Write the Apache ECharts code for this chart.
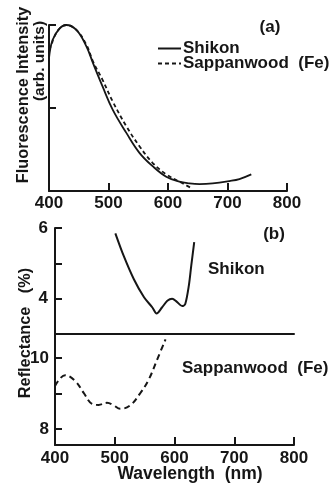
<!DOCTYPE html>
<html>
<head>
<meta charset="utf-8">
<script src="https://cdn.jsdelivr.net/npm/echarts@6/dist/echarts.min.js"></script>
<style>
html,body{margin:0;padding:0;background:#fff;}
#c{width:334px;height:486px;}
</style>
</head>
<body>
<div id="c"></div>
<script>
// ---- Data ----
const xTicks = [400, 500, 600, 700, 800];

// Panel (a): fluorescence intensity (arb. units)
const fluoShikonWl  = [400, 406, 418, 429, 446, 463, 474, 490, 507, 530, 552, 574, 597, 619, 636, 653, 675, 703, 720, 740];
const fluoShikonVal = [0.80, 0.91, 0.98, 1.00, 0.97, 0.87, 0.77, 0.63, 0.49, 0.35, 0.23, 0.15, 0.086, 0.056, 0.046, 0.042, 0.046, 0.060, 0.072, 0.10];
const fluoSappanWl  = [400, 404, 409, 418, 429, 446, 463, 474, 490, 507, 530, 552, 574, 597, 620, 638];
const fluoSappanVal = [0.85, 0.88, 0.93, 0.98, 1.00, 0.97, 0.88, 0.78, 0.67, 0.54, 0.39, 0.27, 0.17, 0.10, 0.055, 0.02];

// Panel (b): reflectance (%)
const reflShikonWl  = [501, 515, 532, 549, 563, 570, 579, 588, 596, 604, 613, 618, 624, 628, 633];
const reflShikonVal = [5.85, 5.21, 4.55, 4.04, 3.75, 3.58, 3.75, 3.94, 4.00, 3.91, 3.79, 3.85, 4.37, 4.93, 5.60];
const reflSappanWl  = [400, 417, 434, 448, 462, 473, 487, 498, 509, 526, 543, 557, 571, 585];
const reflSappanVal = [9.21, 9.52, 9.35, 9.02, 8.71, 8.68, 8.74, 8.67, 8.57, 8.67, 9.02, 9.40, 9.96, 10.53];

const upperTicks = [4, 5, 6], upperLabels = [4, 6];
const lowerTicks = [8, 9, 10], lowerLabels = [8, 10];

const names = { shikon: 'Shikon', sappan: 'Sappanwood  (Fe)' };

// ---- Helpers ----
const zip = (xs, ys) => xs.map((x, i) => [x, ys[i]]);
const INK = '#161616';
const FONT = '"Liberation Sans", Arial, sans-serif';
const axisLine = { show: true, lineStyle: { color: INK, width: 2 } };
const tickIn = { show: true, inside: true, length: 8, lineStyle: { color: INK, width: 2 } };
const lbl = { color: INK, fontSize: 17, fontWeight: 'bold', fontFamily: FONT };

function txt(text, x, y, opts) {
  opts = opts || {};
  return {
    type: 'text', x: x, y: y, rotation: opts.rot || 0,
    style: {
      text: text, x: 0, y: 0,
      font: 'bold ' + (opts.size || 17) + 'px ' + FONT,
      fill: INK,
      textAlign: opts.align || 'center',
      textVerticalAlign: 'middle'
    }
  };
}

const chart = echarts.init(document.getElementById('c'), null, { renderer: 'canvas' });
chart.setOption({
  backgroundColor: '#ffffff',
  animation: false,
  grid: [
    { left: 49, top: 25, width: 238, height: 166 },
    { left: 55, top: 228, width: 239, height: 106 },
    { left: 55, top: 334, width: 239, height: 111 }
  ],
  legend: {
    data: [names.shikon, names.sappan],
    orient: 'vertical',
    left: 157, top: 40,
    padding: 0,
    itemWidth: 23, itemHeight: 12, itemGap: -2,
    itemStyle: { opacity: 0 },
    textStyle: Object.assign({}, lbl, { lineHeight: 15, padding: [0, 0, 0, -3] })
  },
  xAxis: [
    { gridIndex: 0, type: 'value', min: 400, max: 800, interval: 100,
      axisLine: axisLine, axisTick: tickIn, splitLine: { show: false },
      axisLabel: Object.assign({ margin: 4, customValues: xTicks }, lbl) },
    { gridIndex: 1, type: 'value', min: 400, max: 800, interval: 100,
      axisLine: axisLine, axisTick: { show: false }, axisLabel: { show: false }, splitLine: { show: false } },
    { gridIndex: 2, type: 'value', min: 400, max: 800, interval: 100,
      axisLine: axisLine, axisTick: tickIn, splitLine: { show: false },
      axisLabel: Object.assign({ margin: 5, customValues: xTicks }, lbl) }
  ],
  yAxis: [
    { gridIndex: 0, type: 'value', min: 0, max: 1, interval: 0.5,
      axisLine: axisLine, axisTick: Object.assign({}, tickIn, { length: 7 }),
      axisLabel: { show: false }, splitLine: { show: false } },
    { gridIndex: 1, type: 'value', min: 3, max: 6,
      axisLine: axisLine,
      axisTick: Object.assign({}, tickIn, { length: 7, customValues: upperTicks }),
      axisLabel: Object.assign({ margin: 7, customValues: upperLabels }, lbl),
      splitLine: { show: false } },
    { gridIndex: 2, type: 'value', min: 7.55, max: 10.68,
      axisLine: axisLine,
      axisTick: Object.assign({}, tickIn, { length: 7, customValues: lowerTicks }),
      axisLabel: Object.assign({ margin: 6, customValues: lowerLabels }, lbl),
      splitLine: { show: false } }
  ],
  series: [
    { name: names.shikon, type: 'line', xAxisIndex: 0, yAxisIndex: 0, smooth: 0.4, symbol: 'none',
      lineStyle: { color: INK, width: 1.8 }, itemStyle: { color: INK },
      data: zip(fluoShikonWl, fluoShikonVal) },
    { name: names.sappan, type: 'line', xAxisIndex: 0, yAxisIndex: 0, smooth: 0.4, symbol: 'none',
      lineStyle: { color: INK, width: 1.8, type: [4, 3] }, itemStyle: { color: INK },
      data: zip(fluoSappanWl, fluoSappanVal) },
    { name: 'Shikon (b)', type: 'line', xAxisIndex: 1, yAxisIndex: 1, smooth: 0.3, symbol: 'none',
      lineStyle: { color: INK, width: 2 },
      data: zip(reflShikonWl, reflShikonVal) },
    { name: 'Sappanwood (b)', type: 'line', xAxisIndex: 2, yAxisIndex: 2, smooth: 0.4, symbol: 'none',
      lineStyle: { color: INK, width: 2, type: [6, 4] },
      data: zip(reflSappanWl, reflSappanVal) }
  ],
  graphic: [
    txt('(a)', 270, 27),
    txt('(b)', 274, 234),
    txt('Shikon', 208, 269, { align: 'left' }),
    txt('Sappanwood  (Fe)', 182, 368, { align: 'left' }),
    txt('Fluorescence Intensity', 24, 95, { rot: Math.PI / 2, size: 16.3 }),
    txt('(arb. units)', 40, 61, { rot: Math.PI / 2, size: 15.5 }),
    txt('Reflectance   (%)', 26, 333, { rot: Math.PI / 2, size: 16.3 }),
    txt('Wavelength  (nm)', 190, 474, { size: 17.5 })
  ]
});
</script>
</body>
</html>
